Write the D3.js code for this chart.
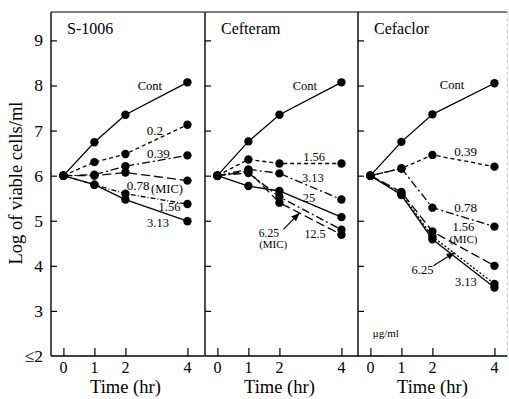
<!DOCTYPE html>
<html><head><meta charset="utf-8">
<script src="https://cdn.jsdelivr.net/npm/d3@7"></script>
<style>
html,body{margin:0;padding:0;background:#fff;}
text{font-family:"Liberation Serif","Times New Roman",serif;fill:#000;}
</style></head>
<body><svg id="c" width="509" height="399"></svg>
<script>
// ---- data ----
const times = [0, 1, 2, 4];
const xTicks = [0, 1, 2, 4];
const yTicks = [2, 3, 4, 5, 6, 7, 8, 9];
const yTickLabels = ["≤2", "3", "4", "5", "6", "7", "8", "9"];
const panelTitles = ["S-1006", "Cefteram", "Cefaclor"];

const s1006Series = ["Cont", "0.2", "0.39", "0.78", "1.56", "3.13"];
const s1006Values = [
  [6.0, 6.74, 7.35, 8.07],
  [6.0, 6.30, 6.48, 7.13],
  [6.0, 6.02, 6.21, 6.45],
  [6.0, 6.00, 6.07, 5.89],
  [6.0, 5.80, 5.60, 5.37],
  [6.0, 5.80, 5.47, 4.99]
];
const cefteramSeries = ["Cont", "1.56", "3.13", "25", "6.25", "12.5"];
const cefteramValues = [
  [6.0, 6.76, 7.35, 8.07],
  [6.0, 6.36, 6.27, 6.27],
  [6.0, 6.14, 6.05, 5.47],
  [6.0, 5.77, 5.66, 5.08],
  [6.0, 6.06, 5.53, 4.80],
  [6.0, 6.10, 5.40, 4.69]
];
const cefaclorSeries = ["Cont", "0.39", "0.78", "1.56", "3.13", "6.25"];
const cefaclorValues = [
  [6.0, 6.75, 7.36, 8.05],
  [6.0, 6.16, 6.46, 6.20],
  [6.0, 6.16, 5.29, 4.87],
  [6.0, 5.64, 4.76, 4.00],
  [6.0, 5.60, 4.65, 3.60],
  [6.0, 5.57, 4.59, 3.52]
];

// ---- styles / annotation layout (kept separate from data) ----
const dashes = [
  {"Cont": null, "0.2": "4,3", "0.39": "8,3,2,3", "0.78": "9,4", "1.56": "5,2,1,2", "3.13": null},
  {"Cont": null, "1.56": "4,3", "3.13": "8,3,2,3", "25": null, "6.25": "8,3,2,3", "12.5": "9,4"},
  {"Cont": null, "0.39": "4,3", "0.78": "8,3,2,3", "1.56": "9,4", "3.13": "2,2", "6.25": null}
];
const annotations = [
  [
    {t: 2.79, v: 7.99, s: "Cont", fs: 12.5},
    {t: 2.95, v: 7.01, s: "0.2", fs: 13},
    {t: 3.06, v: 6.50, s: "0.39", fs: 13},
    {t: 2.41, v: 5.79, s: "0.78", fs: 13},
    {t: 3.34, v: 5.70, s: "(MIC)", fs: 12.5},
    {t: 3.42, v: 5.31, s: "1.56", fs: 12.5},
    {t: 3.05, v: 4.96, s: "3.13", fs: 12.5}
  ],
  [
    {t: 2.82, v: 7.99, s: "Cont", fs: 12.5},
    {t: 3.12, v: 6.42, s: "1.56", fs: 12.5},
    {t: 3.08, v: 5.95, s: "3.13", fs: 12.5},
    {t: 2.95, v: 5.51, s: "25", fs: 12.5},
    {t: 1.66, v: 4.72, s: "6.25", fs: 11.5},
    {t: 1.80, v: 4.48, s: "(MIC)", fs: 11},
    {t: 3.15, v: 4.71, s: "12.5", fs: 12}
  ],
  [
    {t: 2.63, v: 8.01, s: "Cont", fs: 12.5},
    {t: 3.07, v: 6.53, s: "0.39", fs: 13},
    {t: 3.07, v: 5.30, s: "0.78", fs: 13},
    {t: 3.00, v: 4.86, s: "1.56", fs: 12.5},
    {t: 3.00, v: 4.60, s: "(MIC)", fs: 11},
    {t: 1.68, v: 3.91, s: "6.25", fs: 12.5},
    {t: 3.08, v: 3.65, s: "3.13", fs: 12.5},
    {t: 0.50, v: 2.50, s: "μg/ml", fs: 11}
  ]
];
const arrows = [
  [],
  [{t1: 2.13, v1: 4.81, t2: 2.63, v2: 5.16}],
  [{t1: 2.03, v1: 4.00, t2: 2.70, v2: 4.29}]
];

const panels = [
  {series: s1006Series, values: s1006Values},
  {series: cefteramSeries, values: cefteramValues},
  {series: cefaclorSeries, values: cefaclorValues}
];

// ---- layout ----
const svg = d3.select("#c");
const panelX0 = [51, 205, 358];
const panelW = 153.5;
const topY = 12, bottomY = 356;
const y = d3.scaleLinear().domain([2, 9.63]).range([bottomY, topY]);

svg.append("defs").append("marker")
  .attr("id", "ah").attr("viewBox", "0 0 10 10").attr("refX", 9).attr("refY", 5)
  .attr("markerWidth", 7).attr("markerHeight", 7).attr("orient", "auto")
  .append("path").attr("d", "M0,1 L10,5 L0,9 Z").attr("fill", "#000");

panels.forEach((p, i) => {
  const x0 = panelX0[i];
  const x = d3.scaleLinear().domain([-0.4, 4.55]).range([x0, x0 + panelW]);
  const right = Math.min(x0 + panelW, 507.5);
  const g = svg.append("g");

  // frame
  g.append("line").attr("x1", x0).attr("x2", right).attr("y1", topY).attr("y2", topY)
    .attr("stroke", "#000").attr("stroke-width", 1.2);
  g.append("line").attr("x1", x0).attr("x2", right).attr("y1", bottomY).attr("y2", bottomY)
    .attr("stroke", "#000").attr("stroke-width", 1.4);
  g.append("line").attr("x1", x0).attr("x2", x0).attr("y1", topY).attr("y2", bottomY)
    .attr("stroke", "#000").attr("stroke-width", 1.4);
  if (i === 2) {
    g.append("line").attr("x1", right).attr("x2", right).attr("y1", topY).attr("y2", bottomY)
      .attr("stroke", "#ccc").attr("stroke-width", 1).attr("stroke-dasharray", "3,3");
  }

  // y ticks (inward)
  const yAxis = d3.axisRight(y).tickValues(yTicks.slice(1)).tickSize(6).tickFormat("");
  const ya = g.append("g").attr("transform", `translate(${x0},0)`).call(yAxis);
  ya.select(".domain").remove();
  ya.selectAll("line").attr("stroke-width", 1.2);

  // x ticks (inward, upward)
  const xAxis = d3.axisTop(x).tickValues(xTicks).tickSize(8).tickFormat("");
  const xa = g.append("g").attr("transform", `translate(0,${bottomY})`).call(xAxis);
  xa.select(".domain").remove();
  xa.selectAll("line").attr("stroke-width", 1.2);

  // x tick labels
  g.selectAll(".xl").data(xTicks).enter().append("text")
    .attr("x", d => x(d)).attr("y", 373).attr("text-anchor", "middle")
    .attr("font-size", 16).text(d => d);
  g.append("text").attr("x", x(2.0)).attr("y", 393).attr("text-anchor", "middle")
    .attr("font-size", 18.5).text("Time (hr)");

  // title
  g.append("text").attr("x", x0 + 16).attr("y", 34).attr("font-size", 16).text(panelTitles[i]);

  // lines
  const line = d3.line().x((d, j) => x(times[j])).y(d => y(d));
  p.series.forEach((s, k) => {
    const path = g.append("path").datum(p.values[k]).attr("d", line)
      .attr("fill", "none").attr("stroke", "#000").attr("stroke-width", 1.3);
    if (dashes[i][s]) path.attr("stroke-dasharray", dashes[i][s]);
  });
  // markers
  p.series.forEach((s, k) => {
    g.selectAll(null).data(p.values[k]).enter().append("circle")
      .attr("cx", (d, j) => x(times[j])).attr("cy", d => y(d)).attr("r", 4.2).attr("fill", "#000");
  });

  // annotations
  annotations[i].forEach(a => {
    g.append("text").attr("x", x(a.t)).attr("y", y(a.v)).attr("text-anchor", "middle")
      .attr("dominant-baseline", "central").attr("font-size", a.fs).text(a.s);
  });
  arrows[i].forEach(a => {
    g.append("line").attr("x1", x(a.t1)).attr("y1", y(a.v1)).attr("x2", x(a.t2)).attr("y2", y(a.v2))
      .attr("stroke", "#000").attr("stroke-width", 1.2).attr("marker-end", "url(#ah)");
  });
});

// y tick labels
svg.selectAll(".yl").data(yTicks).enter().append("text")
  .attr("x", 43).attr("y", d => y(d)).attr("text-anchor", "end")
  .attr("dominant-baseline", "central").attr("font-size", 17.5)
  .text((d, i) => yTickLabels[i]);

// y axis title
svg.append("text").attr("transform", "translate(16,183) rotate(-90)")
  .attr("text-anchor", "middle").attr("dominant-baseline", "central")
  .attr("font-size", 18.5).text("Log of viable cells/ml");
</script></body></html>
